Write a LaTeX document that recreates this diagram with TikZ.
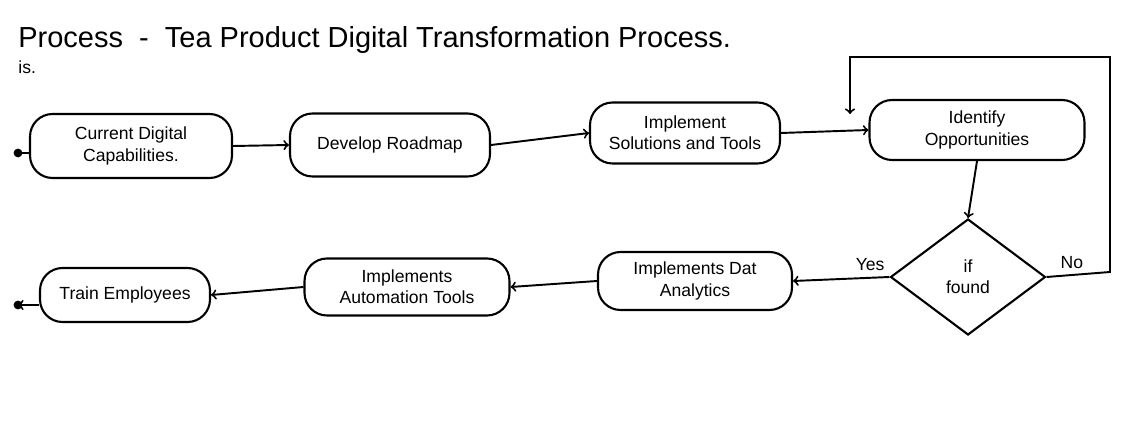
\documentclass[tikz,border=0pt]{standalone}
\usepackage{fontspec}
\setmainfont{Liberation Sans}
\usetikzlibrary{shapes.geometric}

\begin{document}
\begin{tikzpicture}[x=0.02cm, y=-0.02cm,
  procbox/.style={draw, line width=1.2pt, rounded corners=0.45cm, align=center,
                  font=\fontsize{10}{12}\selectfont, inner sep=2pt},
  decision/.style={draw, line width=1.2pt, diamond, align=center, inner sep=0pt,
                   minimum width=3.1cm, minimum height=2.32cm,
                   font=\fontsize{10}{12}\selectfont},
  flow/.style={line width=1.1pt, ->}]
\useasboundingbox[fill=white] (0, 0) rectangle (1135, 438);

\node[anchor=base west, inner sep=0pt, font=\fontsize{16.5}{20}\selectfont] (title) at (18, 48)
  {Process \ - \ Tea Product Digital Transformation Process.};
\node[anchor=base west, inner sep=0pt, font=\fontsize{10}{12}\selectfont] (is) at (18, 74) {is.};

\node[procbox, minimum width=4.04cm, minimum height=1.28cm] (cur) at (131, 146)
  {Current Digital\\Capabilities.};
\node[procbox, minimum width=4.0cm, minimum height=1.26cm] (road) at (390, 145)
  {Develop Roadmap};
\node[procbox, minimum width=3.8cm, minimum height=1.22cm] (impl) at (685, 133)
  {Implement\\Solutions and Tools};
\node[procbox, minimum width=4.3cm, minimum height=1.2cm] (iden) at (977, 130)
  {Identify\\Opportunities};
\node[decision] (found) at (968, 277) {if\\found};
\node[procbox, minimum width=3.88cm, minimum height=1.16cm] (anal) at (695, 281)
  {Implements Dat\\Analytics};
\node[procbox, minimum width=4.1cm, minimum height=1.14cm] (auto) at (407, 287)
  {Implements\\Automation Tools};
\node[procbox, minimum width=3.4cm, minimum height=1.08cm] (train) at (125, 295)
  {Train Employees};

\coordinate (start) at (18, 153);
\coordinate (stop) at (18, 305);
\coordinate (noa) at (1110, 272);
\coordinate (nob) at (1110, 57);
\coordinate (noc) at (850, 57);
\coordinate (nod) at (850, 114);

\fill (start) circle (2.5pt);
\draw[line width=1.1pt] (start) -- (cur.west |- start);
\draw[flow] (cur.east) -- (road.west);
\draw[flow] (road.east) -- (impl.west);
\draw[flow] (impl.east) -- (iden.west);
\draw[flow] (iden.south) -- (found.north);
\draw[flow] (found.west) -- node[above, pos=0.2, font=\fontsize{10}{12}\selectfont] {Yes} (anal.east);
\draw[flow] (anal.west) -- (auto.east);
\draw[flow] (auto.west) -- (train.east);
\draw[flow] (train.west |- stop) -- (stop);
\fill (stop) circle (2.5pt);
\draw[flow] (found.east) -- node[above, pos=0.4, font=\fontsize{10}{12}\selectfont] {No} (noa)
  -- (nob) -- (noc) -- (nod);
\end{tikzpicture}
\end{document}
